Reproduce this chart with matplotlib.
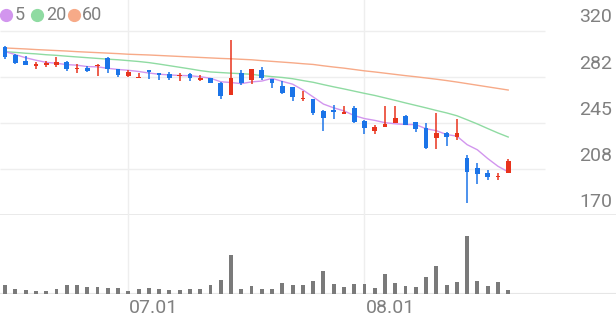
import numpy as np
import pandas as pd
import matplotlib
matplotlib.use("Agg")
import matplotlib.pyplot as plt
from matplotlib.lines import Line2D

plt.rcParams['font.family'] = ['Roboto', 'DejaVu Sans']

# ---- data ----
opens = [306.8, 300.1, 294.8, 291.1, 292.0, 292.2, 294.1, 288.7, 289.8, 291.1,
         297.9, 288.5, 283.0, 281.6, 287.9, 285.4, 284.9, 282.8, 284.9, 279.8,
         281.1, 277.6, 267.3, 285.7, 279.8, 287.9, 280.3, 275.1, 273.8, 264.1,
         264.3, 254.8, 255.4, 251.9, 256.7, 246.7, 238.5, 241.3, 244.6, 250.7,
         245.4, 240.5, 232.8, 236.4, 233.7, 216.1, 208.0, 203.9, 200.7, 203.9]
highs = [307.8, 300.5, 299.3, 294.4, 295.4, 298.2, 295.2, 292.5, 290.9, 292.4,
         298.7, 289.1, 287.5, 285.7, 288.0, 285.7, 286.5, 285.7, 285.7, 283.8,
         281.5, 278.4, 312.3, 287.9, 288.7, 290.6, 280.5, 279.2, 274.0, 271.0,
         264.5, 255.0, 259.4, 258.6, 258.6, 247.0, 243.2, 258.6, 258.6, 251.0,
         246.0, 244.6, 252.7, 237.7, 247.8, 218.8, 212.0, 206.6, 204.4, 215.3]
lows = [296.6, 292.4, 292.0, 289.1, 290.6, 290.6, 286.8, 285.2, 286.3, 283.0,
        285.7, 282.0, 282.2, 281.5, 280.6, 279.8, 279.8, 278.9, 278.9, 279.2,
        277.0, 264.1, 267.2, 275.9, 276.5, 279.8, 273.0, 268.1, 262.9, 262.9,
        251.3, 238.5, 247.8, 251.8, 244.6, 235.9, 235.9, 241.2, 244.5, 243.0,
        237.2, 223.4, 223.4, 226.3, 231.0, 179.5, 195.2, 198.4, 198.4, 203.8]
closes = [298.2, 293.8, 292.2, 293.0, 293.3, 294.4, 288.5, 289.8, 287.3, 292.2,
          288.5, 283.8, 286.5, 282.4, 285.9, 283.6, 281.1, 284.1, 281.6, 281.6,
          277.6, 266.7, 281.1, 277.1, 288.5, 281.1, 277.6, 268.9, 265.7, 265.1,
          252.7, 248.6, 253.5, 253.5, 245.9, 240.5, 241.3, 244.0, 249.1, 243.2,
          240.0, 224.2, 236.4, 233.2, 236.9, 205.2, 203.3, 201.1, 201.7, 213.9]
volumes = [90, 47, 40, 33, 33, 47, 90, 90, 67, 73,
           60, 60, 33, 47, 57, 47, 37, 40, 47, 47,
           90, 140, 390, 47, 80, 47, 53, 107, 87, 87,
           133, 227, 100, 67, 100, 100, 57, 200, 107, 77,
           67, 167, 283, 90, 120, 577, 127, 77, 117, 40]
prev_closes = [306.0, 305.0, 303.0, 302.0]   # closes before the window, for MA5 warm-up

ma20 = [302.8, 302.2, 301.5, 301.0, 300.3, 299.8, 299.1, 298.5, 297.9, 297.3,
        296.7, 296.2, 295.5, 294.8, 293.9, 292.7, 291.4, 290.1, 288.8, 287.4,
        286.3, 285.8, 285.3, 284.9, 284.4, 283.3, 282.5, 281.8, 280.8, 279.3,
        277.9, 276.0, 274.2, 272.5, 270.7, 268.9, 267.2, 265.2, 263.2, 261.1,
        259.1, 257.1, 255.0, 253.0, 250.7, 247.4, 244.0, 240.3, 236.7, 233.4]
ma60 = [305.8, 305.4, 305.0, 304.5, 304.1, 303.7, 303.3, 302.8, 302.4, 302.0,
        301.6, 301.2, 300.7, 300.4, 300.1, 299.7, 299.3, 298.9, 298.5, 298.1,
        297.7, 297.3, 297.0, 296.6, 296.2, 295.5, 294.9, 294.3, 293.7, 293.0,
        292.4, 291.3, 290.3, 289.4, 288.3, 287.2, 286.3, 285.3, 284.3, 283.3,
        282.4, 281.4, 280.4, 279.3, 278.1, 276.8, 275.5, 274.2, 272.9, 271.6]

price_ticks = [170, 207.5, 245, 282.5, 320]
price_labels = ["170", "208", "245", "282", "320"]
date_ticks = [12, 35]
date_labels = ["07.01", "08.01"]
ma_names = ["5", "20", "60"]

# ---- styling ----
UP = "#e8331c"
DOWN = "#1b74e8"
C_MA5 = "#d296ee"
C_MA20 = "#8fdba2"
C_MA60 = "#f7aa88"
GRID = "#eeeeee"
TXT = "#808080"

W, H = 616, 321
n = len(closes)
slots = 60
x = np.arange(n)

ma5 = pd.Series(prev_closes + closes).rolling(5).mean().to_numpy()[len(prev_closes):]

fig = plt.figure(figsize=(W / 100, H / 100), dpi=100)
fig.patch.set_facecolor("white")

# price panel: pixel rows 0..215, volume panel: 215..294
ax = fig.add_axes([0, (H - 215) / H, 1, 215 / H])
axv = fig.add_axes([0, (H - 294) / H, 1, 79 / H])

for a in (ax, axv):
    a.set_xlim(-0.5, slots - 0.5)
    a.set_axis_off()

ax.set_ylim(170, 170 + 215 / 1.23)
axv.set_ylim(0, 790)

# grid
ax.hlines(price_ticks[1:], -0.5, 52.6, color=GRID, lw=1, zorder=0)
ax.axhline(170, color="#e6e6e6", lw=1.2, zorder=0)
axv.axhline(0, color="#e6e6e6", lw=1.5, zorder=0)
for t in date_ticks:
    ax.axvline(t, color=GRID, lw=1, zorder=0)
    axv.axvline(t, color=GRID, lw=1, zorder=0)

# moving averages
ax.plot(x, ma60, color=C_MA60, lw=1.0, zorder=2)
ax.plot(x, ma20, color=C_MA20, lw=1.0, zorder=2)
ax.plot(x, ma5, color=C_MA5, lw=1.0, zorder=2)

# candles
o = np.array(opens)
c = np.array(closes)
colors = [UP if cc >= oo else DOWN for oo, cc in zip(o, c)]
ax.vlines(x, lows, highs, colors=colors, lw=1.1, zorder=3)
body_low = np.minimum(o, c)
body_h = np.maximum(np.abs(c - o), 0.9)
ax.bar(x, body_h, bottom=body_low, width=0.46, color=colors, zorder=4)

# volume
axv.bar(x, volumes, width=0.38, color="#7a7a7a", zorder=2)

# price labels on the right
for v, lab in zip(price_ticks, price_labels):
    ax.annotate(lab, xy=(1, v), xycoords=("axes fraction", "data"),
                xytext=(-4, 4), textcoords="offset pixels",
                ha="right", va="bottom", fontsize=14, color=TXT)

# date labels
for t, lab in zip(date_ticks, date_labels):
    axv.annotate(lab, xy=(t, 0), xycoords="data", xytext=(1, -5),
                 textcoords="offset pixels", ha="left", va="top",
                 fontsize=14, color=TXT)

# legend
leg_dot_x = [5.5, 37, 74]
leg_txt_x = [15, 46, 82]
for dx, tx, col, name in zip(leg_dot_x, leg_txt_x, [C_MA5, C_MA20, C_MA60], ma_names):
    fig.add_artist(Line2D([dx / W], [1 - 15 / H], marker="o", markersize=8.5,
                          color=col, transform=fig.transFigure, lw=0))
    fig.text(tx / W, 1 - 15 / H, name, ha="left", va="center",
             fontsize=13, color=TXT)

fig.savefig("out.png", dpi=100, facecolor="white")
